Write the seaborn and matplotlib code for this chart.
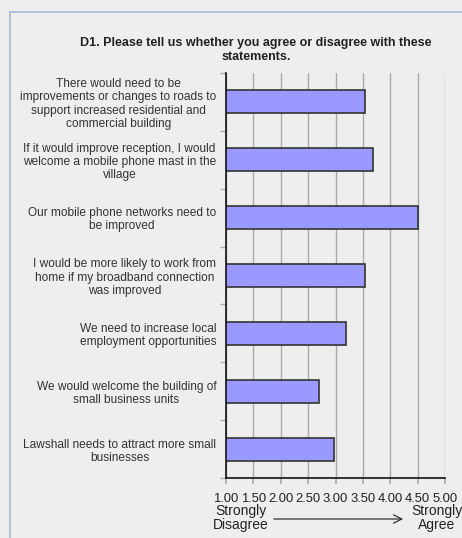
import matplotlib
matplotlib.use("Agg")
import matplotlib.pyplot as plt
import seaborn as sns
import pandas as pd
from matplotlib.patches import Rectangle

categories = [
    "There would need to be\nimprovements or changes to roads to\nsupport increased residential and\ncommercial building",
    "If it would improve reception, I would\nwelcome a mobile phone mast in the\nvillage",
    "Our mobile phone networks need to\nbe improved",
    "I would be more likely to work from\nhome if my broadband connection\nwas improved",
    "We need to increase local\nemployment opportunities",
    "We would welcome the building of\nsmall business units",
    "Lawshall needs to attract more small\nbusinesses",
]
values = [3.53, 3.69, 4.51, 3.53, 3.19, 2.70, 2.97]
xticks = [1.0, 1.5, 2.0, 2.5, 3.0, 3.5, 4.0, 4.5, 5.0]
xtick_labels = ["1.00", "1.50", "2.00", "2.50", "3.00", "3.50", "4.00", "4.50", "5.00"]
title = "D1. Please tell us whether you agree or disagree with these\nstatements."

sns.set_theme(style="white")
plt.rcParams["font.family"] = ["Liberation Sans", "DejaVu Sans"]

W, H = 462, 538
fig = plt.figure(figsize=(W / 100, H / 100), dpi=100)
bg = "#EEEEEE"
fig.patch.set_facecolor(bg)

# outer frame
fig.patches.append(Rectangle((10 / W, -0.1), 1.2, (H - 12) / H + 0.1,
                             transform=fig.transFigure, fill=False,
                             edgecolor="#A9B8D4", linewidth=1.2))

ax = fig.add_axes([226 / W, 1 - 478 / H, 219 / W, 405 / H])
ax.set_facecolor(bg)

df = pd.DataFrame({"cat": categories, "val": values})
sns.barplot(data=df, x="val", y="cat", orient="h", color="#9999FF",
            edgecolor="#333333", linewidth=1.2, width=0.4, saturation=1, ax=ax)

ax.set_xlim(1, 5)
ax.set_ylim(len(categories) - 0.5, -0.5)
ax.set_xticks(xticks)
ax.set_xticklabels(xtick_labels, fontsize=9.4, color="#222222")
ax.xaxis.grid(True, color="#AAAAAA", linewidth=1)
ax.set_axisbelow(True)
ax.set_xlabel("")
ax.set_ylabel("")

ax.set_yticks(range(len(categories)))
ax.set_yticklabels(categories, fontsize=8.6, color="#333333",
                   multialignment="center", linespacing=1.15)
ax.set_yticks([i - 0.5 for i in range(len(categories) + 1)], minor=True)
ax.tick_params(axis="y", which="major", length=0, pad=7)
ax.tick_params(axis="y", which="minor", length=4, color="#AAAAAA", direction="out", left=True)
ax.tick_params(axis="x", which="major", length=4, color="#AAAAAA", direction="out", bottom=True, pad=7)

for s in ["top", "right"]:
    ax.spines[s].set_visible(False)
for s in ["left", "bottom"]:
    ax.spines[s].set_color("#111111")
    ax.spines[s].set_linewidth(1.2)

fig.text(256 / W, 1 - 50 / H, title, ha="center", va="center", fontsize=9.0,
         fontweight="bold", color="#222222", linespacing=1.3)

fig.text(241 / W, 1 - 518.5 / H, "Strongly\nDisagree", ha="center", va="center",
         fontsize=10, color="#222222", linespacing=1.0)
fig.text(437 / W, 1 - 518.5 / H, "Strongly\nAgree", ha="center", va="center",
         fontsize=10, color="#222222", linespacing=1.0)
fig.add_artist(matplotlib.patches.FancyArrowPatch(
    (271 / W, 1 - 519 / H), (406 / W, 1 - 519 / H), transform=fig.transFigure,
    arrowstyle="->,head_length=6,head_width=3", color="#333333", linewidth=0.9))

fig.savefig("out.png", dpi=100, facecolor=bg)
